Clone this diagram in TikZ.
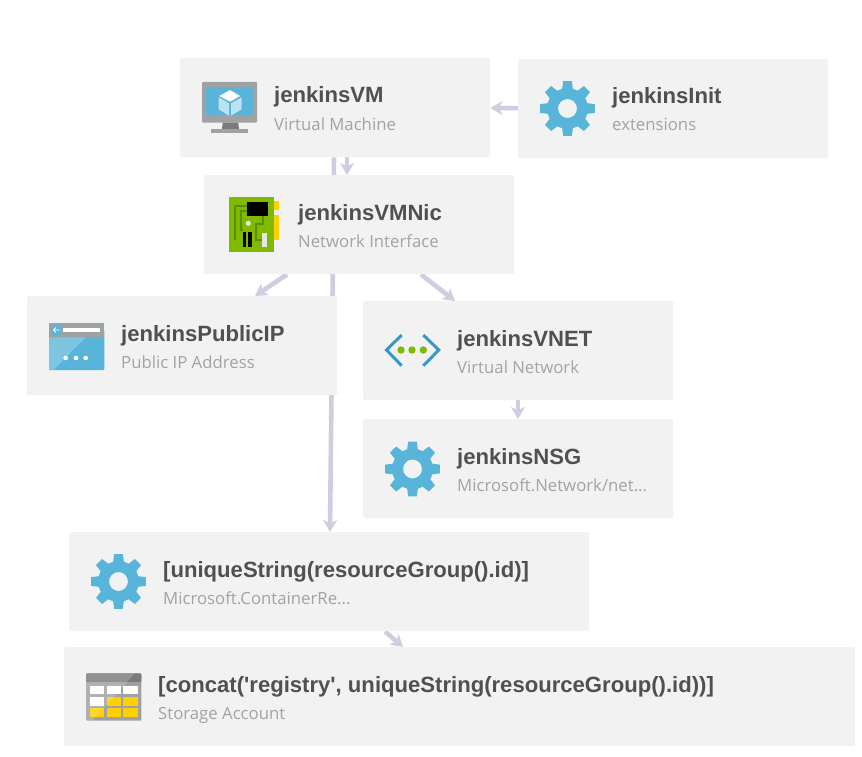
\documentclass[tikz,border=0pt]{standalone}
\usepackage{fontspec}
\setmainfont{Liberation Sans}
\newfontfamily\namefont{Liberation Sans}
\newfontfamily\subfont{Open Sans}
\usetikzlibrary{arrows.meta,backgrounds}
\definecolor{cardfill}{HTML}{F2F2F2}
\definecolor{linkc}{HTML}{CDCEDF}
\definecolor{azure}{HTML}{59B4D9}
\definecolor{azlight}{HTML}{7EC5E2}
\definecolor{azgray}{HTML}{A0A1A2}
\definecolor{azdark}{HTML}{7A7A7A}
\definecolor{azgreen}{HTML}{7FBA00}
\definecolor{azyellow}{HTML}{FFD000}
\definecolor{azline}{HTML}{3999C6}
\definecolor{traceg}{HTML}{5E8F00}
\definecolor{titlec}{HTML}{505050}
\definecolor{subc}{HTML}{A3A3A3}
\tikzset{
  x=1pt,y=-1pt,
  card/.style={fill=cardfill,draw=none,rounded corners=1.5pt,anchor=north west,minimum height=99pt,inner sep=0pt},
  nametext/.style={anchor=base west,inner sep=0pt,text=titlec,font=\fontsize{22.1}{24}\selectfont\namefont\bfseries},
  kindtext/.style={anchor=base west,inner sep=0pt,text=subc,font=\fontsize{16.75}{18}\selectfont\subfont},
  link/.style={draw=linkc,line width=4.6pt,-{Stealth[length=12pt,width=14pt,inset=3.5pt]}},
  gearicon/.pic={
    \fill[azure,even odd rule] (75:20.5)
      \foreach \a in {90,135,...,405}{ -- (\a-15:20.5) -- (\a-9:27.8) -- (\a+9:27.8) -- (\a+15:20.5)} -- cycle
      (0,0) circle (9.5);
  }
}
\begin{document}
\begin{tikzpicture}
\useasboundingbox (0,0) rectangle (862,757);
% cards
\node[card,minimum width=310pt] (vm) at (180,58) {};
\node[card,minimum width=310pt] (init) at (518,59) {};
\node[card,minimum width=310pt] (nic) at (204,175) {};
\node[card,minimum width=310pt] (pip) at (27,296) {};
\node[card,minimum width=310pt] (vnet) at (363,301) {};
\node[card,minimum width=310pt] (nsg) at (363,419) {};
\node[card,minimum width=520pt] (uniq) at (69,532) {};
\node[card,minimum width=791pt] (stor) at (64,647) {};
% connectors
\begin{pgfonlayer}{background}
\fill[white] (0,0) rectangle (862,757);
\draw[link] ([yshift=0.5pt]init.west) -- ([yshift=-50pt]vm.north east);
\draw[link] ([xshift=167pt]vm.south west) -- ([xshift=143pt]nic.north west);
\draw[link] ([xshift=154pt]vm.south west) -- ([xshift=261pt]uniq.north west);
\draw[link] ([xshift=83pt]nic.south west) -- ([xshift=228pt]pip.north west);
\draw[link] ([xshift=217pt]nic.south west) -- ([xshift=92pt]vnet.north west);
\draw[link] ([xshift=155pt]vnet.south west) -- ([xshift=155pt]nsg.north west);
\draw[link] ([xshift=316pt]uniq.south west) -- ([xshift=339pt]stor.north west);
\end{pgfonlayer}
% texts
\node[nametext] (t1) at (274,103) {jenkinsVM};
\node[kindtext] (s1) at (274,131) {Virtual Machine};
\node[nametext] (t2) at (612,104) {jenkinsInit};
\node[kindtext] (s2) at (612,131) {extensions};
\node[nametext] (t3) at (298,220) {jenkinsVMNic};
\node[kindtext] (s3) at (298,247) {Network Interface};
\node[nametext] (t4) at (121,341) {jenkinsPublicIP};
\node[kindtext] (s4) at (121,368) {Public IP Address};
\node[nametext] (t5) at (457,346) {jenkinsVNET};
\node[kindtext] (s5) at (457,373) {Virtual Network};
\node[nametext] (t6) at (457,464) {jenkinsNSG};
\node[kindtext] (s6) at (457,491) {Microsoft.Network/net...};
\node[nametext] (t7) at (163,577) {[uniqueString(resourceGroup().id)]};
\node[kindtext] (s7) at (163,604) {Microsoft.ContainerRe...};
\node[nametext] (t8) at (158,692) {[concat('registry', uniqueString(resourceGroup().id))]};
\node[kindtext] (s8) at (158,719) {Storage Account};
% gears
\pic at (567.5,108.5) {gearicon};
\pic at (412.5,469) {gearicon};
\pic at (118.5,581.5) {gearicon};
% VM icon
\fill[azgray,rounded corners=1pt] (202,82) rectangle (257,122.7);
\fill[azure] (206,86.7) rectangle (253.3,115.3);
\fill[azdark] (222.7,122.7) -- (238.3,122.7) -- (239,129.3) -- (222,129.3) -- cycle;
\fill[azgray] (211,129.3) rectangle (248,133.3);
\fill[white] (230,90) -- (240,96) -- (230,101.7) -- (219.3,96) -- cycle;
\fill[white,opacity=.6] (218.7,97.3) -- (229,103.3) -- (229,115.7) -- (218.7,109.3) -- cycle;
\fill[white,opacity=.6] (231,103.3) -- (241.7,97.3) -- (241.7,109.3) -- (231,115.7) -- cycle;
% NIC icon
\fill[azgreen] (229,197) rectangle (273.7,252.3);
\fill[azyellow] (273.7,201) rectangle (279,210.3);
\fill[azyellow] (273.7,215) rectangle (279,240);
\draw[traceg,line width=1.3pt] (247,206) -- (235,206) -- (235,240);
\draw[traceg,line width=1.3pt] (247,211) -- (241,211) -- (241,230) -- (243,230);
\draw[traceg,line width=1.3pt] (263,216) -- (263,224) -- (256,224) -- (256,240) -- (262,240);
\fill[black] (247,202.3) rectangle (268.3,215.7);
\fill[black] (243,232.3) rectangle (246,246.7);
\fill[black] (248.3,232.3) rectangle (252,246.7);
\fill[white!90!black] (262,232.7) rectangle (267,246.7);
\fill[white!90!black] (248.3,223.3) circle (2.6);
% public IP icon
\fill[azure,rounded corners=1pt] (49,330) rectangle (104.3,370);
\fill[azlight] (49,337.3) -- (85.7,337.3) -- (53.3,370) -- (49,370) -- cycle;
\fill[azgray] (49,322.7) rectangle (104.3,337.3);
\fill[white] (63.3,327.7) rectangle (100.3,332.3);
\fill[azure] (56.7,330) circle (5.7);
\draw[white,line width=.9pt] (60,330) -- (53.6,330) (56,327.6) -- (53.6,330) -- (56,332.4);
\fill[white] (65.7,358) circle (2.3) (76,358) circle (2.3) (85.7,358) circle (2.3);
% VNET icon
\draw[draw=azline,line width=3pt,line join=miter] (401.7,335) -- (386.5,350) -- (401.7,365.7);
\draw[draw=azline,line width=3pt,line join=miter] (423.3,335) -- (438.8,350) -- (423.3,365.7);
\fill[azgreen] (401,350) circle (3.7) (412,350) circle (3.7) (423.3,350) circle (3.7);
% storage icon
\fill[azgray,rounded corners=1pt] (86,673.3) rectangle (141.3,720.7);
\fill[azdark,rounded corners=1pt] (86,673.3) rectangle (141.3,682);
\foreach \cx/\cy/\cc in {90/685.7/white,106.7/685.7/white,123.3/685.7/white,
  90/697/white,106.7/697/azyellow,123.3/697/azyellow,
  90/708/azyellow,106.7/708/azyellow,123.3/708/azyellow}{
  \fill[\cc] (\cx,\cy) rectangle ++(14.3,8.6);
}
\fill[white,opacity=.18] (86,673.3) -- (135,673.3) -- (92,720.7) -- (86,720.7) -- cycle;
\end{tikzpicture}
\end{document}
